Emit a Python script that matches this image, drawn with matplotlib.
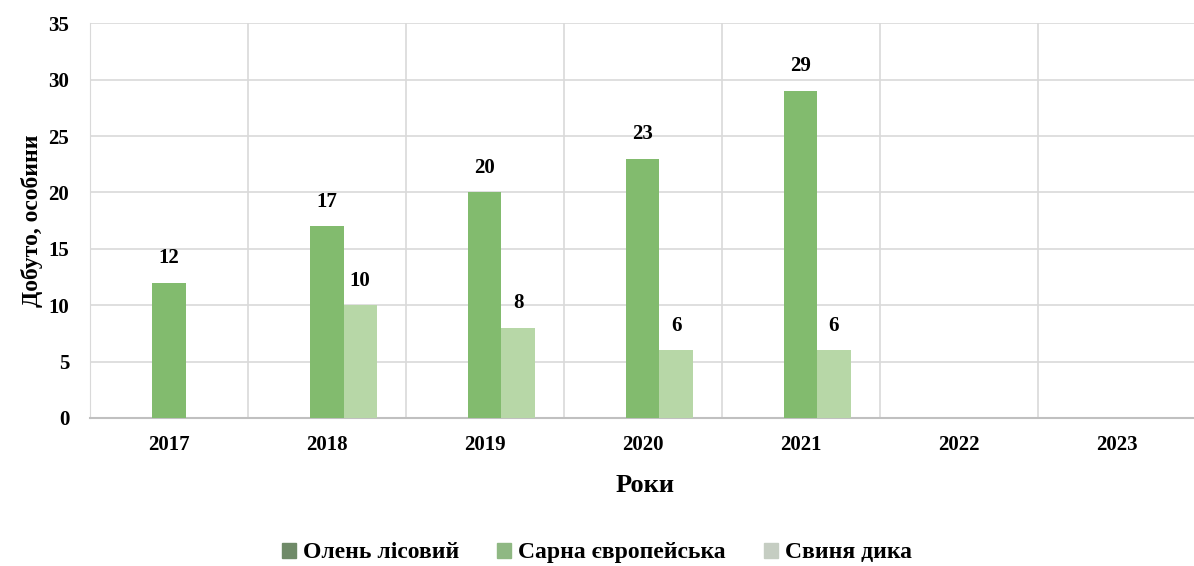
import matplotlib
matplotlib.use("Agg")
import matplotlib.pyplot as plt
import numpy as np
from matplotlib.patches import Patch

years = ["2017", "2018", "2019", "2020", "2021", "2022", "2023"]
olen = [0, 0, 0, 0, 0, 0, 0]
sarna = [12, 17, 20, 23, 29, 0, 0]
svynia = [0, 10, 8, 6, 6, 0, 0]
series_names = ["Олень лісовий", "Сарна європейська", "Свиня дика"]
colors = ["#6f8f66", "#82bb6e", "#b7d7a7"]
legend_colors = ["#6f8a68", "#8fb883", "#c5cdc2"]

plt.rcParams['font.family'] = ['Liberation Serif', 'DejaVu Serif']
plt.rcParams['font.weight'] = 'bold'

fig = plt.figure(figsize=(11.94, 5.66), dpi=100)
ax = fig.add_axes([0.0754, 0.2615, 0.93, 0.6975])

x = np.arange(len(years))
w = 0.21
data = [olen, sarna, svynia]
for i, (vals, c, name) in enumerate(zip(data, colors, series_names)):
    pos = x + (i - 1) * w
    bars = ax.bar(pos, vals, width=w, color=c, label=name, zorder=3)
    for b, v in zip(bars, vals):
        if v > 0:
            ax.text(b.get_x() + b.get_width() / 2, v + 1.3, str(v), ha='center', va='bottom',
                    fontsize=15, fontweight='bold')

ax.set_ylim(0, 35)
ax.set_yticks(range(0, 36, 5))
ax.set_xlim(-0.5, len(years) - 0.5 + 0.03)
ax.set_xticks(x)
ax.set_xticklabels(years)
ax.set_xticks(np.arange(-0.5, len(years), 1), minor=True)
ax.grid(axis='y', color='#d9d9d9', linewidth=1.2, zorder=0)
ax.grid(axis='x', which='minor', color='#d9d9d9', linewidth=1.2, zorder=0)
ax.tick_params(axis='both', which='both', length=0, labelsize=15)
ax.tick_params(axis='x', pad=12)
ax.tick_params(axis='y', pad=15)
for s in ['top', 'right']:
    ax.spines[s].set_visible(False)
ax.spines['left'].set_color('#d9d9d9')
ax.spines['bottom'].set_color('#c0c0c0')
ax.spines['bottom'].set_linewidth(1.5)

ax.set_ylabel("Добуто, особини", fontsize=17, fontweight='bold', labelpad=4)
ax.set_xlabel("Роки", fontsize=19, fontweight='bold', labelpad=14)

handles = [Patch(color=c) for c in legend_colors]
fig.legend(handles, series_names, loc='center', bbox_to_anchor=(0.5, 0.023), ncol=3,
           frameon=False, handlelength=0.6, handleheight=0.6,
           handletextpad=0.3, columnspacing=1.6, prop={'weight': 'bold', 'size': 17})

fig.savefig("out.png", dpi=100)
